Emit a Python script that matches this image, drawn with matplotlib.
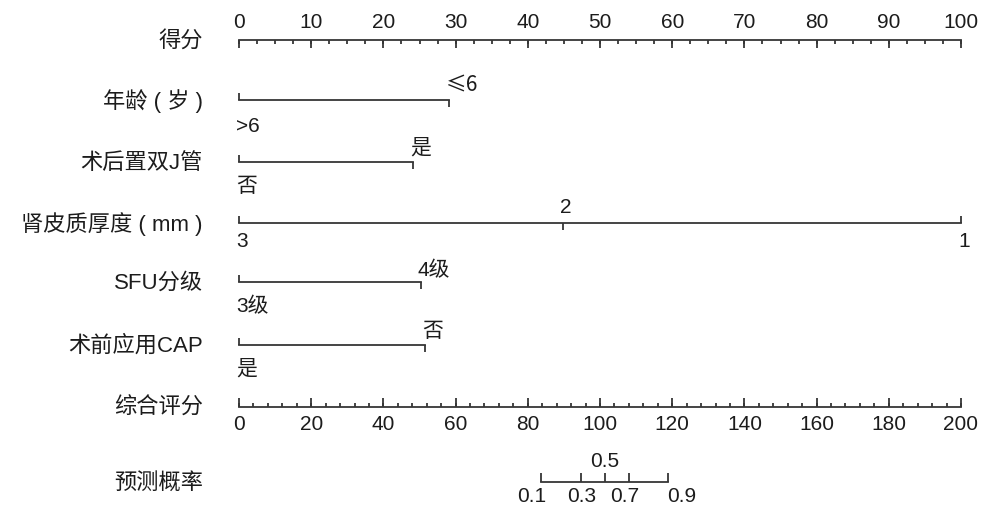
import matplotlib.pyplot as plt
import numpy as np

plt.rcParams['font.family'] = ['Liberation Sans', 'Noto Sans CJK SC']

# scales
points_major = np.arange(0, 101, 10)
points_minor = np.arange(0, 100.1, 2.5)
total_major = np.arange(0, 201, 20)
total_minor = np.arange(0, 200.1, 4)

# predictors: labels and the points
row_names = ['得分', '年龄 ( 岁 )', '术后置双J管', '肾皮质厚度 ( mm )', 'SFU分级',
             '术前应用CAP', '综合评分', '预测概率']
age_labels = ['>6', '≤6']
age_points = [0, 29.1]
stent_labels = ['否', '是']
stent_points = [0, 24.1]
cortex_labels = ['3', '2', '1']
cortex_points = [0, 44.9, 100]
sfu_labels = ['3级', '4级']
sfu_points = [0, 25.2]
cap_labels = ['是', '否']
cap_points = [0, 25.8]

# predicted probability vs total points
prob_labels = ['0.1', '0.3', '0.5', '0.7', '0.9']
prob_total = [83.7, 94.7, 101.4, 108.0, 118.8]

LC = '#363636'
TC = '#1c1c1c'
FS = 15
PX = 7.22  # pixels per point on the top scale

row_y = [40, 100, 162, 223, 282, 345, 407, 482]

fig = plt.figure(figsize=(9.87, 5.12), dpi=100)
ax = fig.add_axes([0, 0, 1, 1])
ax.set_xlim(-239 / PX, (987 - 239) / PX)
ax.set_ylim(512, 0)
ax.axis('off')

# row names
for name, y in zip(row_names, row_y):
    ax.text(-36 / PX, y + 1, name, ha='right', va='center', fontsize=16, color=TC)

# top points scale
y = row_y[0]
ax.plot([0, 100], [y, y], color=LC, lw=1.3)
ax.vlines(points_minor, y, y + 4, color=LC, lw=1.3)
ax.vlines(points_major, y, y + 8, color=LC, lw=1.3)
for v in points_major:
    ax.text(v, 28, str(v), ha='center', va='baseline', fontsize=FS, color=TC)


def draw_var(y, labels, pts, below=30, above=8):
    ax.plot([min(pts), max(pts)], [y, y], color=LC, lw=1.3)
    for i, (lab, p) in enumerate(zip(labels, pts)):
        up = i % 2 == 1
        ax.vlines(p, y, y + 7 if up else y - 7, color=LC, lw=1.3)
        fam = ['Noto Sans CJK SC'] if '≤' in lab else None
        ax.text(p - 3 / PX, y - above if up else y + below, lab, ha='left',
                va='baseline', fontsize=FS, color=TC, family=fam)


draw_var(row_y[1], age_labels, age_points, below=32)
draw_var(row_y[2], stent_labels, stent_points)
draw_var(row_y[3], cortex_labels, cortex_points, below=24, above=10)
draw_var(row_y[4], sfu_labels, sfu_points, above=6)
draw_var(row_y[5], cap_labels, cap_points)

# total points scale (0-200 drawn on the 0-100 width)
y = row_y[6]
ax.plot([0, 100], [y, y], color=LC, lw=1.3)
ax.vlines(total_minor / 2, y, y - 4, color=LC, lw=1.3)
ax.vlines(total_major / 2, y, y - 9, color=LC, lw=1.3)
for v in total_major:
    ax.text(v / 2, 430, str(v), ha='center', va='baseline', fontsize=FS, color=TC)

# probability scale, labels below are spread apart a little to avoid overlap
y = row_y[7]
px = np.array(prob_total) / 2
nudge = [-9, 1, 0, -4, 14]
ax.plot([px.min(), px.max()], [y, y], color=LC, lw=1.3)
ax.vlines(px, y, y - 9, color=LC, lw=1.3)
for lab, p, d in zip(prob_labels, px, nudge):
    if lab == '0.5':
        ax.text(p, 467, lab, ha='center', va='baseline', fontsize=FS, color=TC)
    else:
        ax.text(p + d / PX, 502, lab, ha='center', va='baseline', fontsize=FS, color=TC)

fig.savefig('out.png', dpi=100)
